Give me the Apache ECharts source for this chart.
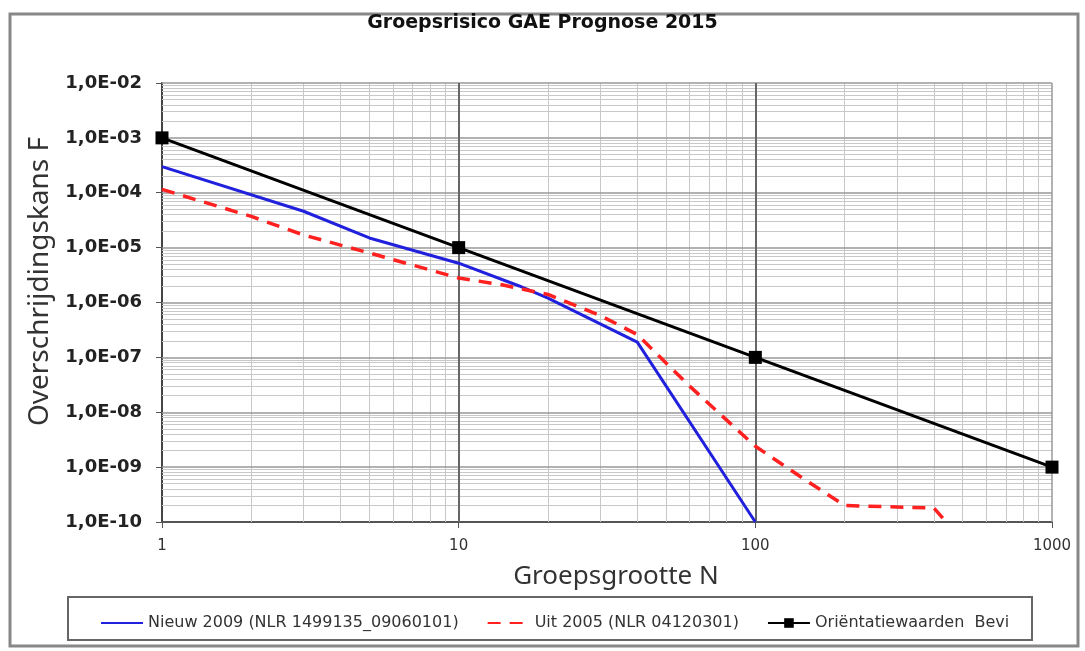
<!DOCTYPE html>
<html>
<head>
<meta charset="utf-8">
<script src="https://cdn.jsdelivr.net/npm/echarts@6/dist/echarts.min.js"></script>
<style>html,body{margin:0;padding:0;background:#fff}#chart{width:1085px;height:651px}</style>
</head>
<body>
<div id="chart"></div>
<script>
var names = ['Nieuw 2009 (NLR 1499135_09060101)', 'Uit 2005 (NLR 04120301)', 'Oriëntatiewaarden  Bevi'];
// groepsgrootte N / overschrijdingskans F
var nieuwN = [1, 3, 5, 10, 16, 20, 40, 100];
var nieuwF = [3e-4, 4.6e-5, 1.5e-5, 5.2e-6, 2.0e-6, 1.2e-6, 1.9e-7, 1e-10];
var uitN = [1, 2, 3, 5, 10, 14, 20, 30, 40, 60, 100, 150, 200, 400, 440];
var uitF = [1.15e-4, 3.7e-5, 1.7e-5, 8e-6, 2.8e-6, 2.1e-6, 1.4e-6, 5.8e-7, 2.6e-7, 3e-8, 2.4e-9, 5.5e-10, 2e-10, 1.8e-10, 1e-10];
var bevlN = [1, 10, 100, 1000];
var bevlF = [1e-3, 1e-5, 1e-7, 1e-9];
var xRange = [1, 1000];
var yRange = [1e-10, 1e-2];
var xDecades = [1, 10, 100];
var yDecades = [1e-10, 1e-9, 1e-8, 1e-7, 1e-6, 1e-5, 1e-4, 1e-3];
var minorSteps = [2, 3, 4, 5, 6, 7, 8, 9];

function pairs(xs, ys) {
    return xs.map(function (x, i) { return [x, ys[i]]; });
}
function vLine(v) { return [{coord: [v, yRange[0]]}, {coord: [v, yRange[1]]}]; }
function hLine(v) { return [{coord: [xRange[0], v]}, {coord: [xRange[1], v]}]; }

// log-minor gridlines (2..9 per decade)
var minorLines = [];
xDecades.forEach(function (d) {
    minorSteps.forEach(function (s) { minorLines.push(vLine(d * s)); });
});
yDecades.forEach(function (d) {
    minorSteps.forEach(function (s) { minorLines.push(hLine(d * s)); });
});
// decade gridlines
var majorLines = [];
yDecades.slice(1).concat([yRange[1]]).forEach(function (v) {
    var l = hLine(v);
    l[0].lineStyle = {color: '#999', width: 1.5};
    majorLines.push(l);
});
[10, 100].forEach(function (v) {
    var l = vLine(v);
    l[0].lineStyle = {color: '#666', width: 2};
    majorLines.push(l);
});
(function () {
    var l = vLine(xRange[1]);
    l[0].lineStyle = {color: '#999', width: 1.5};
    majorLines.push(l);
})();

function gridSeries(id, lines, z, style) {
    return {
        name: id,
        type: 'line',
        data: [],
        silent: true,
        z: z,
        markLine: {
            z: z,
            silent: true,
            symbol: 'none',
            label: {show: false},
            lineStyle: style,
            data: lines
        }
    };
}

var myChart = echarts.init(document.getElementById('chart'));
var option = {
    animation: false,
    backgroundColor: '#fff',
    textStyle: {fontFamily: 'DejaVu Sans'},
    title: {
        text: 'Groepsrisico GAE Prognose 2015',
        left: 'center',
        top: 9,
        textStyle: {fontSize: 19, fontWeight: 'bold', color: '#111', fontFamily: 'DejaVu Sans'}
    },
    graphic: [
        {type: 'rect', shape: {x: 10, y: 14, width: 1068, height: 632}, style: {fill: 'none', stroke: '#888', lineWidth: 3}, silent: true},
        {type: 'rect', shape: {x: 68, y: 597, width: 964, height: 43}, style: {fill: 'none', stroke: '#666', lineWidth: 2}, silent: true}
    ],
    legend: {
        data: [
            {name: names[0], itemStyle: {opacity: 0}},
            {name: names[1], itemStyle: {opacity: 0}},
            {name: names[2]}
        ],
        left: 95,
        top: 610,
        itemGap: 28,
        itemWidth: 42,
        itemHeight: 12,
        textStyle: {fontSize: 16, color: '#333', fontFamily: 'DejaVu Sans'}
    },
    grid: {left: 162, right: 33, top: 83, bottom: 129},
    xAxis: {
        type: 'log',
        logBase: 10,
        min: xRange[0],
        max: xRange[1],
        splitNumber: 3,
        name: 'Groepsgrootte N',
        nameLocation: 'middle',
        nameGap: 42,
        nameTextStyle: {fontSize: 26, color: '#333', fontFamily: 'Noto Sans', padding: [0, 0, 0, 18]},
        axisLine: {lineStyle: {color: '#555', width: 2}},
        axisTick: {show: true, length: 6, lineStyle: {color: '#555'}},
        axisLabel: {margin: 17, fontSize: 15, color: '#333', formatter: function (v) { return String(Math.round(v)); }},
        splitLine: {show: false}
    },
    yAxis: {
        type: 'log',
        logBase: 10,
        min: yRange[0],
        max: yRange[1],
        splitNumber: 8,
        name: 'Overschrijdingskans F',
        nameLocation: 'middle',
        nameGap: 104,
        nameTextStyle: {fontSize: 28, color: '#333', fontFamily: 'Noto Sans', padding: [0, 0, 0, 42]},
        axisLine: {show: true, lineStyle: {color: '#444', width: 2}},
        axisTick: {show: true, length: 6, lineStyle: {color: '#555'}},
        axisLabel: {
            margin: 20,
            fontSize: 18,
            fontWeight: 'bold',
            color: '#222',
            formatter: function (v) {
                var e = Math.round(Math.log10(v));
                var a = Math.abs(e);
                return '1,0E' + (e < 0 ? '-' : '+') + (a < 10 ? '0' + a : a);
            }
        },
        splitLine: {show: false}
    },
    series: [
        gridSeries('minorGrid', minorLines, 1, {color: '#c8c8c8', width: 1, type: 'solid'}),
        gridSeries('majorGrid', majorLines, 2, {color: '#999', width: 1.5, type: 'solid'}),
        {
            name: names[0],
            type: 'line',
            data: pairs(nieuwN, nieuwF),
            showSymbol: false,
            symbol: 'none',
            z: 3,
            lineStyle: {color: '#2020dd', width: 3},
            itemStyle: {color: '#2020dd'}
        },
        {
            name: names[1],
            type: 'line',
            data: pairs(uitN, uitF),
            showSymbol: false,
            symbol: 'none',
            z: 3,
            lineStyle: {color: '#ff2020', width: 3.5, type: [13, 9]},
            itemStyle: {color: '#ff2020'}
        },
        {
            name: names[2],
            type: 'line',
            data: pairs(bevlN, bevlF),
            symbol: 'rect',
            symbolSize: 13,
            z: 4,
            lineStyle: {color: '#000', width: 3},
            itemStyle: {color: '#000'}
        }
    ]
};
myChart.setOption(option);
</script>
</body>
</html>
